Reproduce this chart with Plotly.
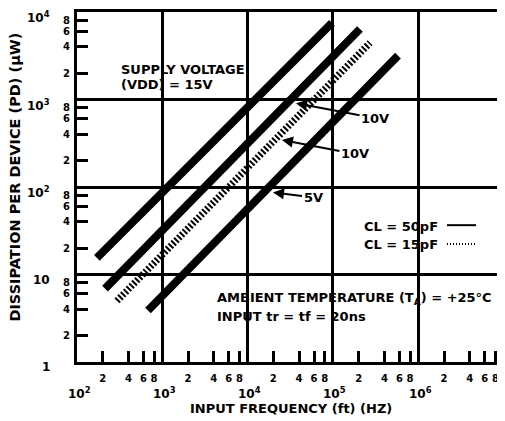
import plotly.graph_objects as go

# ---------------- data ----------------
freq_15v_50pf = [171, 97300]
pd_15v_50pf = [15.5, 7500]
freq_10v_50pf = [213, 207000]
pd_10v_50pf = [6.9, 6400]
freq_10v_15pf = [294, 272000]
pd_10v_15pf = [5.0, 4450]
freq_5v_50pf = [679, 578000]
pd_5v_50pf = [3.88, 3170]

x_decades = [1e2, 1e3, 1e4, 1e5, 1e6, 1e7]
x_decade_exp = [2, 3, 4, 5, 6]
x_decade_labels = ["10<sup>2</sup>", "10<sup>3</sup>", "10<sup>4</sup>", "10<sup>5</sup>", "10<sup>6</sup>"]
y_decades = [1, 10, 100, 1000, 10000]
y_decade_exp = [0, 1, 2, 3, 4]
y_decade_labels = ["1", "10", "10<sup>2</sup>", "10<sup>3</sup>", "10<sup>4</sup>"]
minor_mult = [2, 4, 6, 8]
minor_text = ["2", "4", "6", "8"]

x_minor_vals = [m * d for d in x_decades[:-1] for m in minor_mult]
x_minor_text = [t for d in x_decades[:-1] for t in minor_text]
y_minor_vals = [m * d for d in y_decades[:-1] for m in minor_mult]
y_minor_text = [t for d in y_decades[:-1] for t in minor_text]

X_RANGE = [2, 6.969]
Y_RANGE = [0, 4]

# ---------------- geometry (page pixels) ----------------
W, H = 505, 421
OFF = 8                     # default page body margin
L, R, T, B = 77, 501, 9, 362
def px(x):
    return (x - L) / (R - L)
def py(y):
    return (B - y) / (B - T)
def lx(e):
    return (e - X_RANGE[0]) / (X_RANGE[1] - X_RANGE[0])
def ly(e):
    return (e - Y_RANGE[0]) / (Y_RANGE[1] - Y_RANGE[0])

FONT = "DejaVu Sans"
BLACK = "#000000"

fig = go.Figure()
solid = dict(color=BLACK, width=8)
fig.add_trace(go.Scatter(x=freq_15v_50pf, y=pd_15v_50pf, mode="lines", line=solid))
fig.add_trace(go.Scatter(x=freq_10v_50pf, y=pd_10v_50pf, mode="lines", line=solid))
fig.add_trace(go.Scatter(x=freq_10v_15pf, y=pd_10v_15pf, mode="lines",
                         line=dict(color=BLACK, width=7, dash="2px,2px")))
fig.add_trace(go.Scatter(x=freq_5v_50pf, y=pd_5v_50pf, mode="lines", line=solid))

axis_common = dict(
    type="log", showline=True, linewidth=3, linecolor=BLACK, mirror=True,
    ticks="inside", ticklen=11, tickwidth=2.5, tickcolor=BLACK,
    showgrid=False, zeroline=False,
    tickfont=dict(family=FONT, size=10, color=BLACK, weight="bold"),
)
fig.update_xaxes(
    **axis_common, range=X_RANGE, tickmode="array",
    tickvals=x_minor_vals, ticktext=x_minor_text, ticklabelstandoff=5,
    minor=dict(tickmode="array", tickvals=x_decades[1:-1], showgrid=True,
               gridcolor=BLACK, gridwidth=2.5, ticks=""),
)
fig.update_yaxes(
    **axis_common, range=Y_RANGE, tickmode="array",
    tickvals=y_minor_vals, ticktext=y_minor_text, ticklabelstandoff=2,
    minor=dict(tickmode="array", tickvals=y_decades[1:-1], showgrid=True,
               gridcolor=BLACK, gridwidth=2.5, ticks=""),
)

shapes = []
# white boxes behind the text blocks (cover gridlines, stay under traces)
for x0, y0, x1, y1 in [(115, 54, 254, 93), (345, 215, 501, 262), (210, 286, 497, 331)]:
    shapes.append(dict(type="rect", xref="paper", yref="paper", x0=px(x0), x1=px(x1),
                       y0=py(y1), y1=py(y0), fillcolor="white", line=dict(width=0),
                       layer="between"))
# legend keys
shapes.append(dict(type="line", xref="paper", yref="paper", x0=px(447), x1=px(476),
                   y0=py(224), y1=py(224), line=dict(color=BLACK, width=2)))
shapes.append(dict(type="line", xref="paper", yref="paper", x0=px(447), x1=px(476),
                   y0=py(243), y1=py(243), line=dict(color=BLACK, width=2, dash="1px,2px")))
fig.update_layout(shapes=shapes)

ann = []
def text(x, y, s, size=13, xanchor="left", **kw):
    ann.append(dict(xref="paper", yref="paper", x=px(x), y=py(y), text=s, showarrow=False,
                    xanchor=xanchor, yanchor="middle",
                    font=dict(family=FONT, size=size, color=BLACK, weight="bold"), **kw))

# decade labels
for e, lab in zip(x_decade_exp, x_decade_labels):
    ann.append(dict(xref="paper", yref="paper", x=lx(e), y=py(393), text=lab, showarrow=False,
                    xanchor="center", yanchor="middle", xshift=2,
                    font=dict(family=FONT, size=12, color=BLACK, weight="bold")))
for e, lab in zip(y_decade_exp, y_decade_labels):
    ann.append(dict(xref="paper", yref="paper", x=px(52), y=ly(e), text=lab, showarrow=False,
                    xanchor="right", yanchor="middle", yshift=-5,
                    font=dict(family=FONT, size=12, color=BLACK, weight="bold")))

text(119, 67, "SUPPLY VOLTAGE", 13)
text(119, 82, "(VDD) = 15V", 13)
text(362, 225, "CL = 50pF", 13)
text(362, 243, "CL = 15pF", 13)
text(215, 298, "AMBIENT TEMPERATURE (T<sub>A</sub>) = +25°C", 13)
text(215, 316, "INPUT tr = tf = 20ns", 13)
text(291, 409, "INPUT FREQUENCY (ft) (HZ)", 13, xanchor="center")
ann.append(dict(xref="paper", yref="paper", x=px(15), y=py(176),
                text="DISSIPATION PER DEVICE (PD) (μW)", showarrow=False, textangle=-90,
                xanchor="center", yanchor="middle",
                font=dict(family=FONT, size=14.5, color=BLACK, weight="bold")))

# arrow callouts (head position in log data units, tail offset in pixels)
for hx, hy, lab, dx, dy in [(4.567, 2.958, "10V", 79, 15),
                            (4.402, 2.538, "10V", 73, 14),
                            (4.297, 1.938, "5V", 40, 5)]:
    ann.append(dict(xref="x", yref="y", x=hx, y=hy, ax=dx, ay=dy, text=lab,
                    showarrow=True, arrowhead=2, arrowsize=1.1, arrowwidth=2,
                    arrowcolor=BLACK,
                    font=dict(family=FONT, size=13, color=BLACK, weight="bold")))

fig.update_layout(
    width=W - OFF, height=H - OFF,
    margin=dict(l=L - OFF, r=W - R, t=T - OFF, b=H - B),
    plot_bgcolor="white", paper_bgcolor="white", showlegend=False,
    annotations=ann,
)
fig.write_html("out.html")
